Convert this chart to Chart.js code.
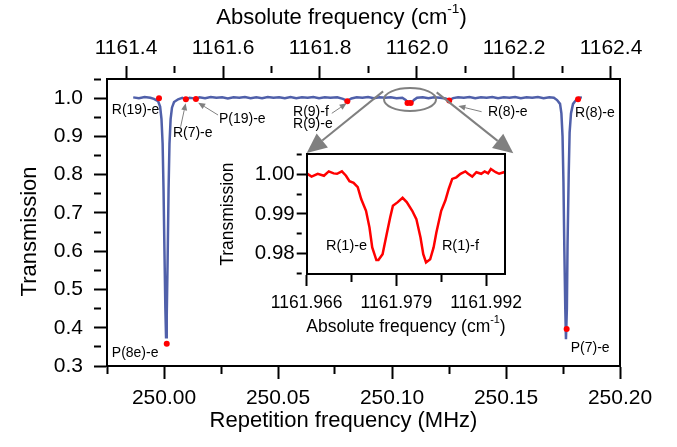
<!DOCTYPE html>
<html>
<head>
<meta charset="utf-8">
<script src="https://cdn.jsdelivr.net/npm/chart.js@4.4.1/dist/chart.umd.min.js"></script>
<style>
  html, body { margin: 0; padding: 0; background: #fff; overflow: hidden; }
  #wrap { position: relative; width: 677px; height: 447px; }
  #main { position: absolute; left: 0; top: 0; }
  #inset { position: absolute; left: -2000px; top: 0; }
  #box { position: absolute; left: 106px; top: 78px; width: 515px; height: 289px;
         border: 2px solid #000; box-sizing: border-box; pointer-events: none; }
</style>
</head>
<body>
<div id="wrap">
  <canvas id="main" width="677" height="447"></canvas>
  <div id="box"></div>
</div>
<canvas id="inset" width="330" height="200"></canvas>
<script>
// ---- data ----
// blue trace: repetition frequency (MHz) / transmission
const blueX = [
  249.9865, 249.9890, 249.9915, 249.9940, 249.9956, 249.9974, 249.9983, 249.9989, 249.9994, 249.9998,
  250.0002, 250.0006, 250.0009, 250.0012, 250.0016, 250.0020, 250.0024, 250.0029, 250.0035, 250.0044,
  250.0062, 250.0080, 250.0096, 250.0112, 250.0125, 250.0140, 250.0155, 250.0180, 250.0205, 250.0230,
  250.0255, 250.0280, 250.0305, 250.0330, 250.0355, 250.0380, 250.0405, 250.0430, 250.0455, 250.0480,
  250.0505, 250.0530, 250.0555, 250.0580, 250.0605, 250.0630, 250.0655, 250.0680, 250.0705, 250.0730,
  250.0760, 250.0785, 250.0804, 250.0822, 250.0845, 250.0870, 250.0895, 250.0920, 250.0945, 250.0970,
  250.0995, 250.1020, 250.1045, 250.1060, 250.1070, 250.1078, 250.1086, 250.1096, 250.1110, 250.1135,
  250.1160, 250.1185, 250.1210, 250.1235, 250.1251, 250.1268, 250.1290, 250.1315, 250.1340, 250.1365,
  250.1390, 250.1415, 250.1440, 250.1465, 250.1490, 250.1515, 250.1540, 250.1565, 250.1590, 250.1615,
  250.1640, 250.1665, 250.1690, 250.1710, 250.1724, 250.1737, 250.1743, 250.1748, 250.1752, 250.1756,
  250.1760, 250.1763, 250.1767, 250.1770, 250.1775, 250.1779, 250.1785, 250.1794, 250.1807, 250.1820,
  250.1833
];
const blueY = [
  1.002, 1.000, 1.003, 1.001, 0.998, 0.992, 0.978, 0.945, 0.880, 0.760,
  0.600, 0.450, 0.375, 0.430, 0.580, 0.760, 0.880, 0.945, 0.975, 0.990,
  0.997, 1.001, 0.996, 1.001, 1.000, 0.997, 1.002, 1.000, 1.003, 1.001,
  1.002, 0.999, 1.002, 1.001, 1.003, 1.000, 1.002, 1.000, 1.003, 1.001,
  1.002, 1.000, 1.003, 1.000, 1.002, 1.001, 1.003, 1.000, 1.002, 1.001,
  1.002, 0.998, 0.993, 0.999, 1.002, 1.001, 1.003, 1.000, 1.002, 1.001,
  1.002, 1.000, 1.001, 0.995, 0.988, 0.991, 0.988, 0.995, 1.001, 1.002,
  1.000, 1.002, 1.001, 0.999, 0.995, 1.000, 1.002, 1.001, 1.003, 1.000,
  1.002, 1.001, 1.003, 1.000, 1.002, 1.001, 1.003, 1.000, 1.002, 1.001,
  1.003, 1.000, 1.002, 1.001, 0.995, 0.985, 0.960, 0.900, 0.780, 0.600,
  0.450, 0.370, 0.450, 0.620, 0.800, 0.910, 0.960, 0.985, 0.995, 1.001,
  1.002
];

// red markers on the assigned lines
const lineNames = ['R(19)-e', 'P(8e)-e', 'R(7)-e', 'P(19)-e', 'R(9)', 'R(1)-e', 'R(1)-f', 'R(8)-e', 'P(7)-e', 'R(8)-e'];
const lineX = [249.9978, 250.0012, 250.0096, 250.0140, 250.0804, 250.1068, 250.1082, 250.1251, 250.1766, 250.1816];
const lineY = [1.000, 0.358, 0.997, 0.998, 0.992, 0.987, 0.987, 0.994, 0.397, 0.997];

// inset: absolute frequency (cm-1) / transmission
const insetX = [
  1161.9660, 1161.9667, 1161.9676, 1161.9685, 1161.9692, 1161.9699, 1161.9704, 1161.9711, 1161.9717, 1161.9722,
  1161.9728, 1161.9734, 1161.9739, 1161.9746, 1161.9751, 1161.9755, 1161.9761, 1161.9764, 1161.9770, 1161.9776,
  1161.9781, 1161.9785, 1161.9792, 1161.9799, 1161.9805, 1161.9813, 1161.9819, 1161.9825, 1161.9829, 1161.9833,
  1161.9839, 1161.9844, 1161.9848, 1161.9855, 1161.9861, 1161.9866, 1161.9871, 1161.9877, 1161.9883, 1161.9890,
  1161.9894, 1161.9900, 1161.9906, 1161.9913, 1161.9918, 1161.9923, 1161.9927, 1161.9934, 1161.9939, 1161.9946,
  1161.9948
];
const insetY = [
  1.0003, 0.9995, 1.0002, 0.9997, 1.0008, 1.0003, 1.0002, 1.0008, 0.9997, 0.9983,
  0.9979, 0.9968, 0.9938, 0.9908, 0.9866, 0.9815, 0.9783, 0.9783, 0.9798, 0.9849,
  0.9891, 0.9921, 0.9930, 0.9941, 0.9930, 0.9908, 0.9887, 0.9840, 0.9798, 0.9777,
  0.9785, 0.9815, 0.9853, 0.9908, 0.9934, 0.9964, 0.9989, 0.9993, 1.0002, 1.0008,
  1.0002, 0.9995, 1.0006, 1.0002, 1.0008, 1.0003, 1.0014, 1.0006, 1.0002, 1.0006,
  1.0004
];

// tick labels
const xTicks = [250.00, 250.05, 250.10, 250.15, 250.20];
const xMinor = [249.975, 250.025, 250.075, 250.125, 250.175];
const topTicks = [1161.4, 1161.6, 1161.8, 1162.0, 1162.2, 1162.4];
const topMinor = [1161.5, 1161.7, 1161.9, 1162.1, 1162.3];
const yTicks = [0.3, 0.4, 0.5, 0.6, 0.7, 0.8, 0.9, 1.0];
const yMinor = [0.35, 0.45, 0.55, 0.65, 0.75, 0.85, 0.95, 1.05];
const insetXTicks = [1161.966, 1161.979, 1161.992];
const insetXMinor = [1161.9725, 1161.9855];
const insetYTicks = [0.98, 0.99, 1.00];
const insetYMinor = [0.975, 0.985, 0.995, 1.005];

// ---- drawing ----
const FONT = '"Liberation Sans", Arial, Helvetica, sans-serif';
Chart.defaults.font.family = FONT;
Chart.defaults.color = '#000';

function drawArrow(ctx, x0, y0, x1, y1, len, half, lw) {
  const a = Math.atan2(y1 - y0, x1 - x0);
  const bx = x1 - len * Math.cos(a), by = y1 - len * Math.sin(a);
  ctx.lineWidth = lw;
  ctx.beginPath(); ctx.moveTo(x0, y0); ctx.lineTo(bx, by); ctx.stroke();
  ctx.beginPath();
  ctx.moveTo(x1, y1);
  ctx.lineTo(bx + half * Math.sin(a), by - half * Math.cos(a));
  ctx.lineTo(bx - half * Math.sin(a), by + half * Math.cos(a));
  ctx.closePath(); ctx.fill();
}

// text with a superscript part, centred on cx
function supTitle(ctx, before, sup, after, cx, cy, size) {
  ctx.font = size + 'px ' + FONT;
  const w1 = ctx.measureText(before).width, w3 = ctx.measureText(after).width;
  ctx.font = (size * 0.62) + 'px ' + FONT;
  const w2 = ctx.measureText(sup).width;
  let x = cx - (w1 + w2 + w3) / 2;
  ctx.textAlign = 'left'; ctx.textBaseline = 'middle';
  ctx.font = size + 'px ' + FONT;
  ctx.fillText(before, x, cy); x += w1;
  ctx.font = (size * 0.62) + 'px ' + FONT;
  ctx.fillText(sup, x, cy - size * 0.38); x += w2;
  ctx.font = size + 'px ' + FONT;
  ctx.fillText(after, x, cy);
}

// crisp 2px box round the plot area
function drawBox(ctx, a) {
  const l = Math.round(a.left), t = Math.round(a.top), r = Math.round(a.right), b = Math.round(a.bottom);
  ctx.fillStyle = '#000';
  ctx.fillRect(l - 1, t - 1, r - l + 2, 2);
  ctx.fillRect(l - 1, b - 1, r - l + 2, 2);
  ctx.fillRect(l - 1, t - 1, 2, b - t + 2);
  ctx.fillRect(r - 1, t - 1, 2, b - t + 2);
}

// major and minor ticks from the scale itself; minor ones get no label and a
// dash pattern that keeps only the first part of the tick mark
const tickScale = (ticks, minors, digits, size, len, minorLen, pad) => {
  const isMinor = v => minors.some(m => Math.abs(m - v) < 1e-9);
  return {
    type: 'linear',
    afterBuildTicks: s => {
      s.ticks = ticks.concat(minors).sort((p, q) => p - q).map(v => ({ value: v }));
    },
    ticks: { autoSkip: false, maxRotation: 0, padding: pad, font: { size: size },
             callback: v => isMinor(v) ? '' : Number(v).toFixed(digits) },
    grid: { display: true, drawOnChartArea: false, drawTicks: true, tickLength: len,
            tickWidth: 2, tickColor: '#000',
            tickBorderDash: c => (c.tick && isMinor(c.tick.value)) ? [minorLen, 400] : [] },
    border: { display: true, color: '#000', width: 2 }
  };
};

// ---- inset, drawn first on its own canvas and copied into the main one ----
const insetDecor = {
  id: 'insetDecor',
  afterDraw(chart) {
    const { ctx, chartArea: a, scales } = chart;
    const X = v => scales.x.getPixelForValue(v), Y = v => scales.y.getPixelForValue(v);
    ctx.save();
    drawBox(ctx, a);
    ctx.fillStyle = '#000';
    supTitle(ctx, 'Absolute frequency (cm', '-1', ')', (a.left + a.right) / 2, 187, 17.5);
    ctx.save();
    ctx.font = '17.5px ' + FONT;
    ctx.translate(28, (a.top + a.bottom) / 2);
    ctx.rotate(-Math.PI / 2);
    ctx.textAlign = 'center'; ctx.textBaseline = 'middle';
    ctx.fillText('Transmission', 0, 0);
    ctx.restore();
    ctx.font = '14.5px ' + FONT;
    ctx.textAlign = 'left'; ctx.textBaseline = 'middle';
    ctx.fillText('R(1)-e', X(1161.9688), Y(0.9819));
    ctx.fillText('R(1)-f', X(1161.9856), Y(0.9819));
    ctx.restore();
  }
};

const insetCanvas = document.getElementById('inset');
new Chart(insetCanvas, {
  type: 'line',
  data: {
    datasets: [
      { data: insetX.map((x, i) => ({ x: x, y: insetY[i] })), borderColor: '#ff0000',
        borderWidth: 2.5, pointRadius: 0, tension: 0 }
    ]
  },
  options: {
    responsive: false, animation: false, devicePixelRatio: 1,
    layout: { padding: { right: 16.7, top: 14 } },
    plugins: { legend: { display: false }, tooltip: { enabled: false } },
    scales: {
      x: Object.assign(tickScale(insetXTicks, insetXMinor, 3, 17.5, 12, 7, 6.5), {
        position: 'bottom', min: 1161.966, max: 1161.9948, afterFit: s => { s.height = 66; } }),
      y: Object.assign(tickScale(insetYTicks, insetYMinor, 2, 20.5, 10, 5, 2), {
        position: 'left', min: 0.97476, max: 1.00514, afterFit: s => { s.width = 106.7; } })
    }
  },
  plugins: [insetDecor]
});

// ---- main plot ----
// annotation texts and arrows in data units of the main plot
const mainLabels = [
  ['R(19)-e', 249.9771, 0.969], ['R(7)-e', 250.0039, 0.909], ['P(19)-e', 250.0241, 0.945],
  ['R(9)-f', 250.0566, 0.9645], ['R(9)-e', 250.0566, 0.932], ['R(8)-e', 250.1421, 0.9637],
  ['R(8)-e', 250.1803, 0.961], ['P(8e)-e', 249.9771, 0.334], ['P(7)-e', 250.1784, 0.347]
];
const smallArrows = [
  [250.0073, 0.9253, 250.0095, 0.9864], [250.0237, 0.9559, 250.0150, 0.9880],
  [250.0736, 0.9603, 250.0801, 0.9865], [250.1393, 0.9645, 250.1291, 0.9794]
];
const bigArrows = [
  [250.0961, 1.0177, 250.0626, 0.8566], [250.1196, 1.0151, 250.1532, 0.8558]
];

const mainDecor = {
  id: 'mainDecor',
  afterDraw(chart) {
    const { ctx, chartArea: a, scales } = chart;
    const X = v => scales.x.getPixelForValue(v), Y = v => scales.y.getPixelForValue(v);
    ctx.save();
    ctx.fillStyle = '#000';
    ctx.font = '22px ' + FONT;
    ctx.textAlign = 'center'; ctx.textBaseline = 'middle';
    ctx.fillText('Repetition frequency (MHz)', (a.left + a.right) / 2 - 20, 421);
    supTitle(ctx, 'Absolute frequency (cm', '-1', ')', (a.left + a.right) / 2 - 22, 18, 22);
    ctx.save();
    ctx.translate(30, (a.top + a.bottom) / 2 + 9);
    ctx.rotate(-Math.PI / 2);
    ctx.textAlign = 'center';
    ctx.fillText('Transmission', 0, 0);
    ctx.restore();

    ctx.font = '14px ' + FONT;
    ctx.textAlign = 'left';
    mainLabels.forEach(([t, x, y]) => ctx.fillText(t, X(x), Y(y)));

    ctx.drawImage(insetCanvas, 200, 140);

    ctx.strokeStyle = '#808080'; ctx.fillStyle = '#808080';
    smallArrows.forEach(([x0, y0, x1, y1]) => drawArrow(ctx, X(x0), Y(y0), X(x1), Y(y1), 7, 3, 1));
    bigArrows.forEach(([x0, y0, x1, y1]) => drawArrow(ctx, X(x0), Y(y0), X(x1), Y(y1), 20, 9, 2));
    ctx.lineWidth = 2;
    ctx.beginPath();
    ctx.ellipse(X(250.1079), Y(0.9964), 26, 11.5, 0, 0, Math.PI * 2);
    ctx.stroke();
    drawBox(ctx, a);
    ctx.restore();
  }
};

new Chart(document.getElementById('main'), {
  type: 'line',
  data: {
    datasets: [
      { data: lineX.map((x, i) => ({ x: x, y: lineY[i] })), showLine: false,
        pointRadius: 3, pointBackgroundColor: '#ff0000', pointBorderWidth: 0, order: 0 },
      { data: blueX.map((x, i) => ({ x: x, y: blueY[i] })), borderColor: '#5060aa',
        borderWidth: 2.5, pointRadius: 0, tension: 0, order: 1 }
    ]
  },
  options: {
    responsive: false, animation: false, devicePixelRatio: 1,
    layout: { padding: { right: 57 } },
    plugins: { legend: { display: false }, tooltip: { enabled: false } },
    scales: {
      x: Object.assign(tickScale(xTicks, xMinor, 2, 21, 13, 7, 7), {
        position: 'bottom', min: 249.975, max: 250.20, afterFit: s => { s.height = 81; } }),
      x2: Object.assign(tickScale(topTicks, topMinor, 1, 21, 13, 7, 5), {
        position: 'top', min: 1161.3608, max: 1162.4186, afterFit: s => { s.height = 79; } }),
      y: Object.assign(tickScale(yTicks, yMinor, 1, 21, 13, 7, 11), {
        position: 'left', min: 0.3, max: 1.05, afterFit: s => { s.width = 107; } })
    }
  },
  plugins: [mainDecor]
});
</script>
</body>
</html>
